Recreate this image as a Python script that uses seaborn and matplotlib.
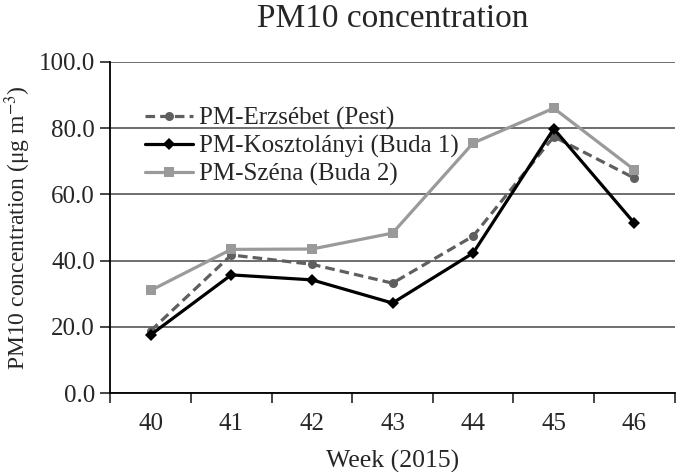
import seaborn as sns
import matplotlib.pyplot as plt
from matplotlib.ticker import MultipleLocator, FixedLocator, FixedFormatter

# Datos
weeks = [40, 41, 42, 43, 44, 45, 46]
erzsebet = [18.8, 41.7, 38.9, 33.2, 47.4, 77.4, 64.9]
kosztolanyi = [17.6, 35.7, 34.2, 27.2, 42.3, 79.8, 51.3]
szena = [31.0, 43.4, 43.5, 48.3, 75.5, 86.0, 67.4]
series_names = ["PM-Erzsébet (Pest)", "PM-Kosztolányi (Buda 1)", "PM-Széna (Buda 2)"]

sns.set_style("white")
plt.rcParams['font.family'] = ['Liberation Serif', 'DejaVu Serif']
plt.rcParams['mathtext.fontset'] = 'stix'

fig = plt.figure(figsize=(6.85, 4.72), dpi=100)
ax = fig.add_axes([0.161, 0.167, 0.824, 0.702])

sns.lineplot(x=weeks, y=erzsebet, ax=ax, color="#5f5f5f", linewidth=2.3,
             linestyle=(0, (3, 1.6)), marker="o", markersize=6.5,
             markeredgewidth=0, label=series_names[0])
sns.lineplot(x=weeks, y=kosztolanyi, ax=ax, color="black", linewidth=2.3,
             marker="D", markersize=6, markeredgewidth=0, label=series_names[1])
sns.lineplot(x=weeks, y=szena, ax=ax, color="#9a9a9a", linewidth=2.3,
             marker="s", markersize=6.5, markeredgewidth=0, label=series_names[2])

ax.set_ylim(0, 100)
ax.set_xlim(39.5, 46.5)
ax.yaxis.set_major_locator(MultipleLocator(20))
ax.set_yticklabels([f"{v:.1f}" for v in ax.get_yticks()])
ax.yaxis.grid(True, color="#555555", linewidth=1.2)
ax.set_axisbelow(True)

# ticks entre categorías, etiquetas centradas
ax.xaxis.set_major_locator(FixedLocator([w - 0.5 for w in weeks] + [46.5]))
ax.xaxis.set_major_formatter(FixedFormatter([""] * 8))
ax.xaxis.set_minor_locator(FixedLocator(weeks))
ax.xaxis.set_minor_formatter(FixedFormatter([str(w) for w in weeks]))
ax.tick_params(axis="x", which="major", direction="out", length=7, width=1.2, bottom=True)
ax.tick_params(axis="x", which="minor", length=0, labelsize=18, pad=14)
ax.tick_params(axis="y", direction="out", length=7, width=1.2, left=True,
               labelsize=18, pad=4)

for s in ["top", "right"]:
    ax.spines[s].set_visible(False)
for s in ["left", "bottom"]:
    ax.spines[s].set_color("black")
    ax.spines[s].set_linewidth(1.3)

ax.set_title("PM10 concentration", fontsize=24, pad=25)
ax.set_xlabel("Week (2015)", fontsize=18.5, labelpad=11)
ax.set_ylabel(r"PM10 concentration (μg m$^{-3}$)", fontsize=17, labelpad=4)

leg = ax.legend(loc="upper left", frameon=False, fontsize=18, handlelength=1.9,
                handletextpad=0.25, labelspacing=0.19, borderpad=0, borderaxespad=0,
                bbox_to_anchor=(0.062, 0.864))

fig.savefig("out.png", dpi=100)
